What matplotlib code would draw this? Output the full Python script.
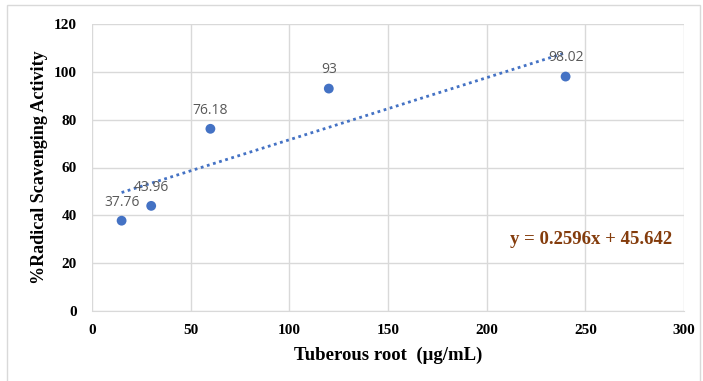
import matplotlib
matplotlib.use("Agg")
import matplotlib.pyplot as plt
from matplotlib.patches import Rectangle
import numpy as np

concentration = [15, 30, 60, 120, 240]
activity = [37.76, 43.96, 76.18, 93, 98.02]
point_labels = ["37.76", "43.96", "76.18", "93", "98.02"]
x_ticks = [0, 50, 100, 150, 200, 250, 300]
y_ticks = [0, 20, 40, 60, 80, 100, 120]

fig = plt.figure(figsize=(7.03, 3.81), dpi=100)
fig.patch.set_facecolor("white")
fig.patches.append(Rectangle((7/703, -0.01), 693/703, 1 - 5/381 + 0.01, transform=fig.transFigure,
                             fill=False, edgecolor="#D9D9D9", linewidth=1))
ax = fig.add_axes([92/703, 1 - 311/381, 592/703, 287/381])

serif = "Liberation Serif"
blue = "#4472C4"

ax.set_xlim(0, 300)
ax.set_ylim(0, 120)
ax.set_xticks(x_ticks)
ax.set_yticks(y_ticks)
ax.grid(True, color="#D9D9D9", linewidth=1)
ax.set_axisbelow(True)
for s in ["top", "right", "left"]:
    ax.spines[s].set_visible(False)
ax.spines["bottom"].set_color("#D9D9D9")
ax.tick_params(length=0)
ax.tick_params(axis="x", pad=9)
ax.tick_params(axis="y", pad=11)
for lab in ax.get_xticklabels() + ax.get_yticklabels():
    lab.set_fontfamily(serif)
    lab.set_fontweight("bold")
    lab.set_fontsize(11)

# trendline
coef = np.polyfit(concentration, activity, 1)
xs = np.array([min(concentration), max(concentration)])
ax.plot(xs, np.polyval(coef, xs), linestyle=(0, (1, 1.3)), color=blue, linewidth=2)

ax.scatter(concentration, activity, s=50, color=blue, zorder=3, edgecolors="none")
for x, y, t in zip(concentration, activity, point_labels):
    ax.annotate(t, (x, y), xytext=(0, 8), textcoords="offset points", ha="center",
                va="bottom", fontsize=10, color="#595959", family="Open Sans")

ax.text(252.9, 29.7, "y = 0.2596x + 45.642", ha="center", va="center",
        fontsize=13.5, fontweight="bold", color="#843C0C", family=serif)

ax.set_xlabel("Tuberous root  (\u03bcg/mL)", fontsize=13.5, fontweight="bold", family=serif, labelpad=7)
ax.set_ylabel("%Radical Scavenging Activity", fontsize=13, fontweight="bold", family=serif, labelpad=4)

fig.savefig("out.png", dpi=100)
